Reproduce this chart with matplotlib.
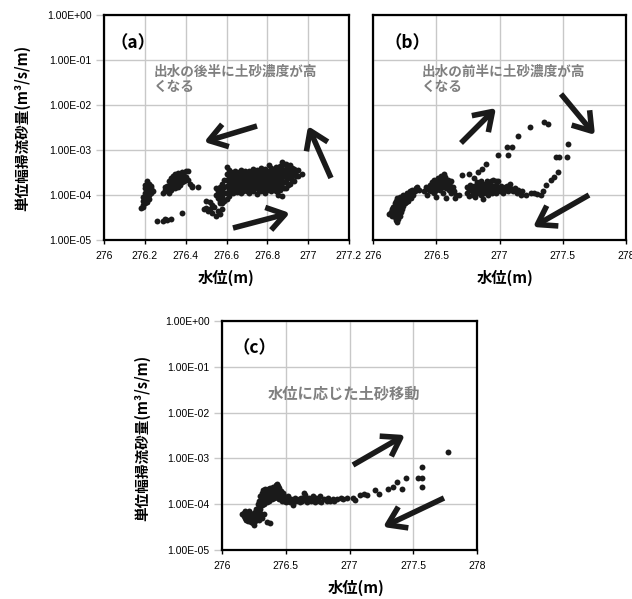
import numpy as np
import matplotlib
matplotlib.use('Agg')
import matplotlib.pyplot as plt
from matplotlib.patches import FancyArrowPatch
from matplotlib.ticker import FuncFormatter, NullLocator

plt.rcParams['font.family'] = ['Liberation Sans', 'Noto Sans CJK JP', 'DejaVu Sans']
CJK = ['Noto Sans CJK JP', 'DejaVu Sans']

# ---- data: (water level m, sediment flux m3/s/m)
a_pts = np.array([
    # cluster near 276.2
    (276.18, 5.2e-5), (276.19, 6e-5), (276.19, 7.5e-5), (276.19, 9e-5), (276.20, 1.1e-4), (276.20, 1.4e-4),
    (276.20, 1.7e-4), (276.21, 2.0e-4), (276.21, 1.5e-4), (276.21, 1.2e-4), (276.21, 9e-5), (276.21, 7e-5),
    (276.22, 1.8e-4), (276.22, 1.3e-4), (276.22, 1e-4), (276.22, 8e-5), (276.23, 1.6e-4), (276.23, 1.1e-4),
    (276.23, 1.4e-4), (276.24, 1.2e-4), (276.20, 6.5e-5), (276.19, 5.5e-5), (276.20, 8e-5), (276.22, 1.6e-4),
    # cluster near 276.35
    (276.29, 1.1e-4), (276.30, 1.3e-4), (276.31, 1.6e-4), (276.31, 1.2e-4), (276.32, 2.0e-4), (276.32, 1.5e-4),
    (276.33, 2.4e-4), (276.33, 1.8e-4), (276.33, 1.3e-4), (276.34, 2.7e-4), (276.34, 2.1e-4), (276.34, 1.6e-4),
    (276.35, 2.9e-4), (276.35, 2.3e-4), (276.35, 1.8e-4), (276.35, 1.4e-4), (276.36, 3.1e-4), (276.36, 2.5e-4),
    (276.36, 2.0e-4), (276.36, 1.5e-4), (276.37, 2.8e-4), (276.37, 2.2e-4), (276.37, 1.7e-4), (276.38, 3.2e-4),
    (276.38, 2.4e-4), (276.38, 1.9e-4), (276.39, 2.7e-4), (276.39, 2.1e-4), (276.40, 3.5e-4), (276.40, 2.5e-4),
    (276.41, 3.4e-4), (276.41, 2.2e-4), (276.42, 1.8e-4), (276.43, 1.6e-4), (276.32, 1.1e-4), (276.30, 1.5e-4),
    # isolated
    (276.26, 2.7e-5), (276.29, 2.7e-5), (276.30, 2.9e-5), (276.31, 2.8e-5), (276.33, 3.0e-5), (276.38, 4.0e-5),
    (276.46, 1.5e-4), (276.43, 1.5e-4),
    # low cluster
    (276.49, 4.8e-5), (276.50, 5.2e-5), (276.51, 4.3e-5), (276.52, 7e-5), (276.52, 4.8e-5), (276.53, 6e-5),
    (276.53, 4e-5), (276.54, 5.5e-5), (276.55, 3.5e-5), (276.56, 4.5e-5), (276.57, 6.5e-5), (276.58, 5e-5),
    (276.57, 3.8e-5), (276.50, 7.5e-5),
    # main cluster
    (276.55, 1.4e-4), (276.55, 1.0e-4), (276.56, 1.2e-4), (276.56, 8.5e-5),
    (276.57, 1.5e-4), (276.57, 1.1e-4), (276.57, 7.5e-5),
    (276.58, 1.8e-4), (276.58, 1.3e-4), (276.58, 9e-5), (276.58, 6.5e-5),
    (276.59, 2.2e-4), (276.59, 1.5e-4), (276.59, 1.1e-4), (276.59, 7.5e-5),
    (276.60, 4.2e-4), (276.60, 3.0e-4), (276.60, 2.2e-4), (276.60, 1.6e-4), (276.60, 1.1e-4), (276.60, 8e-5),
    (276.61, 3.6e-4), (276.61, 2.6e-4), (276.61, 1.9e-4), (276.61, 1.3e-4), (276.61, 9.5e-5),
    (276.62, 3.2e-4), (276.62, 2.4e-4), (276.62, 1.7e-4), (276.62, 1.2e-4),
    (276.63, 2.9e-4), (276.63, 2.1e-4), (276.63, 1.5e-4), (276.63, 1.1e-4),
    (276.64, 3.4e-4), (276.64, 2.5e-4), (276.64, 1.8e-4), (276.64, 1.3e-4),
    (276.65, 3.0e-4), (276.65, 2.2e-4), (276.65, 1.6e-4), (276.65, 1.15e-4),
    (276.66, 3.3e-4), (276.66, 2.4e-4), (276.66, 1.8e-4), (276.66, 1.35e-4),
    (276.67, 3.6e-4), (276.67, 2.7e-4), (276.67, 2.0e-4), (276.67, 1.5e-4), (276.67, 1.1e-4),
    (276.68, 3.1e-4), (276.68, 2.3e-4), (276.68, 1.7e-4), (276.68, 1.25e-4),
    (276.69, 3.4e-4), (276.69, 2.6e-4), (276.69, 1.9e-4), (276.69, 1.4e-4),
    (276.70, 3.0e-4), (276.70, 2.2e-4), (276.70, 1.6e-4), (276.70, 1.2e-4),
    (276.71, 3.5e-4), (276.71, 2.7e-4), (276.71, 2.0e-4), (276.71, 1.5e-4), (276.71, 1.1e-4),
    (276.72, 3.2e-4), (276.72, 2.4e-4), (276.72, 1.8e-4), (276.72, 1.3e-4),
    (276.73, 3.8e-4), (276.73, 2.9e-4), (276.73, 2.2e-4), (276.73, 1.6e-4), (276.73, 1.2e-4),
    (276.74, 3.3e-4), (276.74, 2.5e-4), (276.74, 1.9e-4), (276.74, 1.4e-4),
    (276.75, 3.6e-4), (276.75, 2.7e-4), (276.75, 2.0e-4), (276.75, 1.5e-4), (276.75, 1.05e-4),
    (276.76, 3.1e-4), (276.76, 2.3e-4), (276.76, 1.7e-4), (276.76, 1.25e-4),
    (276.77, 4.0e-4), (276.77, 3.0e-4), (276.77, 2.2e-4), (276.77, 1.6e-4), (276.77, 1.2e-4),
    (276.78, 3.4e-4), (276.78, 2.6e-4), (276.78, 1.9e-4), (276.78, 1.4e-4),
    (276.79, 3.7e-4), (276.79, 2.8e-4), (276.79, 2.1e-4), (276.79, 1.5e-4), (276.79, 1.1e-4),
    (276.80, 3.2e-4), (276.80, 2.4e-4), (276.80, 1.8e-4), (276.80, 1.3e-4),
    (276.81, 4.6e-4), (276.81, 3.4e-4), (276.81, 2.5e-4), (276.81, 1.9e-4), (276.81, 1.4e-4),
    (276.82, 3.9e-4), (276.82, 2.9e-4), (276.82, 2.2e-4), (276.82, 1.6e-4), (276.82, 1.2e-4),
    (276.83, 3.5e-4), (276.83, 2.6e-4), (276.83, 1.9e-4), (276.83, 1.4e-4),
    (276.84, 4.1e-4), (276.84, 3.0e-4), (276.84, 2.3e-4), (276.84, 1.7e-4), (276.84, 1.25e-4),
    (276.85, 3.6e-4), (276.85, 2.7e-4), (276.85, 2.0e-4), (276.85, 1.5e-4), (276.85, 1.0e-4),
    (276.86, 4.3e-4), (276.86, 3.2e-4), (276.86, 2.4e-4), (276.86, 1.8e-4), (276.86, 1.3e-4),
    (276.87, 5.5e-4), (276.87, 3.8e-4), (276.87, 2.8e-4), (276.87, 2.0e-4), (276.87, 1.5e-4), (276.87, 9.5e-5),
    (276.88, 4.8e-4), (276.88, 3.5e-4), (276.88, 2.6e-4), (276.88, 1.9e-4), (276.88, 1.4e-4),
    (276.89, 5.0e-4), (276.89, 3.7e-4), (276.89, 2.7e-4), (276.89, 2.0e-4), (276.89, 1.4e-4),
    (276.90, 4.4e-4), (276.90, 3.2e-4), (276.90, 2.4e-4), (276.90, 1.7e-4),
    (276.91, 4.6e-4), (276.91, 3.4e-4), (276.91, 2.5e-4), (276.91, 1.8e-4),
    (276.92, 4.0e-4), (276.92, 3.0e-4), (276.92, 2.2e-4),
    (276.93, 3.8e-4), (276.93, 2.8e-4), (276.93, 2.1e-4),
    (276.94, 3.5e-4), (276.94, 2.6e-4),
    (276.95, 3.6e-4), (276.95, 2.7e-4),
    (276.97, 3.0e-4),
])

b_pts = np.array([
    # rising band near 276.2
    (276.13, 3.8e-5), (276.14, 4.2e-5), (276.15, 3.5e-5), (276.15, 4.8e-5), (276.16, 4.0e-5), (276.16, 5.5e-5),
    (276.17, 3.2e-5), (276.17, 4.5e-5), (276.17, 6.5e-5), (276.18, 2.8e-5), (276.18, 3.8e-5), (276.18, 5.0e-5),
    (276.18, 7.5e-5), (276.19, 2.5e-5), (276.19, 3.5e-5), (276.19, 4.5e-5), (276.19, 6.0e-5), (276.19, 8.5e-5),
    (276.20, 3.0e-5), (276.20, 4.0e-5), (276.20, 5.5e-5), (276.20, 7.0e-5), (276.21, 3.5e-5), (276.21, 4.8e-5),
    (276.21, 6.5e-5), (276.21, 9.0e-5), (276.22, 4.2e-5), (276.22, 5.5e-5), (276.22, 7.5e-5), (276.23, 5.0e-5),
    (276.23, 6.5e-5), (276.23, 8.0e-5), (276.24, 5.8e-5), (276.24, 7.5e-5), (276.24, 1.0e-4), (276.25, 6.5e-5),
    (276.25, 8.5e-5), (276.26, 7.0e-5), (276.26, 9.5e-5), (276.27, 8.0e-5), (276.27, 1.1e-4), (276.28, 7.5e-5),
    (276.28, 9.0e-5), (276.29, 1.0e-4), (276.29, 1.2e-4), (276.30, 8.5e-5), (276.30, 1.1e-4), (276.31, 1.3e-4),
    (276.32, 1.0e-4), (276.33, 1.2e-4), (276.34, 1.4e-4), (276.35, 1.5e-4), (276.36, 1.3e-4),
    # cluster near 276.55
    (276.40, 1.2e-4), (276.42, 1.5e-4), (276.43, 1.0e-4), (276.44, 1.3e-4), (276.45, 1.7e-4), (276.46, 1.2e-4),
    (276.47, 1.9e-4), (276.47, 1.4e-4), (276.48, 1.1e-4), (276.48, 2.2e-4), (276.49, 1.6e-4), (276.50, 2.0e-4),
    (276.50, 1.3e-4), (276.50, 9.0e-5), (276.51, 2.4e-4), (276.51, 1.7e-4), (276.52, 1.5e-4), (276.52, 1.9e-4),
    (276.53, 2.2e-4), (276.53, 1.3e-4), (276.54, 2.6e-4), (276.54, 1.8e-4), (276.55, 2.0e-4), (276.55, 1.5e-4),
    (276.55, 1.1e-4), (276.56, 3.0e-4), (276.56, 2.3e-4), (276.57, 1.7e-4), (276.57, 2.5e-4), (276.58, 2.0e-4),
    (276.58, 1.4e-4), (276.59, 2.2e-4), (276.60, 1.8e-4), (276.60, 1.3e-4), (276.61, 1.6e-4), (276.62, 2.0e-4),
    (276.62, 1.1e-4), (276.63, 1.5e-4), (276.64, 1.2e-4), (276.66, 1.0e-4), (276.68, 1.0e-4), (276.65, 8.5e-5),
    (276.58, 8.5e-5),
    # rising path
    (276.70, 2.8e-4), (276.76, 2.9e-4), (276.80, 2.4e-4), (276.83, 3.3e-4), (276.86, 3.8e-4), (276.89, 4.8e-4),
    (276.99, 7.7e-4), (277.07, 7.7e-4), (277.06, 1.15e-3), (277.10, 1.15e-3), (277.15, 2.1e-3), (277.24, 3.2e-3),
    (277.35, 4.2e-3), (277.38, 3.7e-3),
    # flat cluster near 277
    (276.74, 1.5e-4), (276.74, 1.1e-4), (276.76, 1.3e-4), (276.76, 9.5e-5), (276.77, 1.7e-4), (276.78, 1.2e-4),
    (276.79, 1.4e-4), (276.79, 1.0e-4), (276.80, 1.6e-4), (276.81, 1.2e-4), (276.81, 9.0e-5), (276.82, 1.9e-4),
    (276.82, 1.4e-4), (276.83, 1.1e-4), (276.84, 1.6e-4), (276.84, 1.3e-4), (276.85, 2.1e-4), (276.85, 1.0e-4),
    (276.86, 1.5e-4), (276.86, 1.2e-4), (276.87, 1.8e-4), (276.87, 8.0e-5), (276.88, 1.4e-4), (276.88, 1.1e-4),
    (276.89, 1.6e-4), (276.90, 1.3e-4), (276.90, 2.0e-4), (276.91, 1.0e-4), (276.91, 1.5e-4), (276.92, 1.2e-4),
    (276.92, 1.8e-4), (276.93, 1.4e-4), (276.94, 1.1e-4), (276.94, 1.6e-4), (276.95, 2.2e-4), (276.95, 1.3e-4),
    (276.96, 1.5e-4), (276.97, 1.1e-4), (276.97, 1.7e-4), (276.98, 1.3e-4), (276.99, 1.5e-4), (277.00, 1.2e-4),
    (277.01, 1.6e-4), (277.02, 1.4e-4), (277.03, 1.1e-4), (277.04, 1.5e-4), (277.05, 1.3e-4), (277.06, 1.6e-4),
    (277.07, 1.2e-4), (277.08, 1.4e-4), (277.10, 1.3e-4), (277.11, 1.2e-4), (277.12, 1.4e-4), (277.14, 1.1e-4),
    (277.15, 1.3e-4), (277.17, 1.0e-4), (277.18, 1.2e-4), (277.21, 1.0e-4), (277.25, 1.1e-4), (277.27, 1.1e-4),
    (277.30, 1.05e-4), (277.33, 1.0e-4), (276.97, 2.1e-4), (276.93, 2.0e-4), (276.99, 2.0e-4), (277.08, 1.8e-4),
    # falling arc
    (277.34, 1.2e-4), (277.37, 1.7e-4), (277.41, 2.2e-4), (277.43, 2.5e-4), (277.46, 3.2e-4), (277.45, 7.0e-4),
    (277.47, 7.0e-4), (277.53, 7.0e-4), (277.54, 1.35e-3),
])

c_pts = np.array([
    (276.16, 6e-5), (276.17, 5.5e-5), (276.17, 6.5e-5), (276.18, 5e-5), (276.18, 6e-5), (276.18, 7e-5),
    (276.19, 4.5e-5), (276.19, 5.5e-5), (276.19, 6.5e-5), (276.20, 4.2e-5), (276.20, 5.2e-5), (276.20, 6.2e-5),
    (276.21, 4.8e-5), (276.21, 5.8e-5), (276.21, 7.0e-5), (276.22, 4.5e-5), (276.22, 5.5e-5), (276.22, 6.5e-5),
    (276.23, 4.0e-5), (276.23, 5.0e-5), (276.23, 6.0e-5), (276.24, 3.8e-5), (276.24, 4.8e-5), (276.24, 5.8e-5),
    (276.25, 3.5e-5), (276.25, 4.5e-5), (276.25, 5.5e-5), (276.26, 4.2e-5), (276.26, 5.2e-5), (276.26, 6.8e-5),
    (276.27, 4.8e-5), (276.27, 6.2e-5), (276.27, 8.0e-5), (276.28, 5.5e-5), (276.28, 7.5e-5), (276.28, 1.0e-4),
    (276.29, 6.5e-5), (276.29, 9.0e-5), (276.29, 1.2e-4), (276.30, 8.0e-5), (276.30, 1.1e-4), (276.30, 1.5e-4),
    (276.31, 9.5e-5), (276.31, 1.3e-4), (276.31, 1.8e-4), (276.32, 1.1e-4), (276.32, 1.5e-4), (276.32, 2.0e-4),
    (276.33, 1.0e-4), (276.33, 1.4e-4), (276.33, 1.9e-4), (276.34, 1.2e-4), (276.34, 1.6e-4), (276.34, 2.1e-4),
    (276.35, 1.1e-4), (276.35, 1.5e-4), (276.35, 2.0e-4), (276.36, 1.3e-4), (276.36, 1.7e-4), (276.36, 2.2e-4),
    (276.37, 1.2e-4), (276.37, 1.6e-4), (276.37, 2.1e-4), (276.38, 1.4e-4), (276.38, 1.8e-4), (276.38, 2.3e-4),
    (276.39, 1.3e-4), (276.39, 1.7e-4), (276.39, 2.2e-4), (276.40, 1.5e-4), (276.40, 1.9e-4), (276.40, 2.4e-4),
    (276.41, 1.4e-4), (276.41, 1.8e-4), (276.41, 2.3e-4), (276.42, 1.6e-4), (276.42, 2.0e-4), (276.42, 2.6e-4),
    (276.43, 1.5e-4), (276.43, 1.9e-4), (276.43, 2.7e-4), (276.44, 1.4e-4), (276.44, 1.8e-4), (276.44, 2.5e-4),
    (276.45, 1.3e-4), (276.45, 1.7e-4), (276.45, 2.3e-4), (276.46, 1.4e-4), (276.46, 1.9e-4), (276.47, 1.2e-4),
    (276.47, 1.6e-4), (276.48, 1.3e-4), (276.48, 1.8e-4), (276.49, 1.2e-4), (276.49, 1.5e-4), (276.50, 1.1e-4),
    (276.50, 1.4e-4), (276.51, 1.3e-4), (276.52, 1.2e-4), (276.52, 1.5e-4), (276.53, 1.1e-4),
    (276.29, 4.5e-5), (276.31, 5e-5), (276.33, 6e-5), (276.35, 4.0e-5), (276.38, 3.8e-5), (276.30, 6.5e-5),
    # tail
    (276.54, 1.3e-4), (276.55, 1.1e-4), (276.56, 9.5e-5), (276.57, 1.4e-4), (276.58, 1.2e-4), (276.60, 1.3e-4),
    (276.61, 1.1e-4), (276.62, 1.4e-4), (276.63, 1.2e-4), (276.64, 1.8e-4), (276.65, 1.6e-4), (276.66, 1.3e-4),
    (276.67, 1.1e-4), (276.68, 1.4e-4), (276.70, 1.2e-4), (276.71, 1.5e-4), (276.72, 1.3e-4), (276.73, 1.1e-4),
    (276.74, 1.4e-4), (276.76, 1.2e-4), (276.77, 1.5e-4), (276.78, 1.1e-4), (276.80, 1.3e-4), (276.82, 1.2e-4),
    (276.83, 1.4e-4), (276.85, 1.15e-4), (276.87, 1.3e-4), (276.88, 1.2e-4), (276.90, 1.3e-4), (276.93, 1.35e-4),
    (276.95, 1.3e-4), (276.98, 1.4e-4), (277.03, 1.4e-4), (277.04, 1.25e-4), (277.08, 1.6e-4), (277.11, 1.7e-4),
    (277.14, 1.6e-4), (277.20, 2.0e-4), (277.23, 1.7e-4), (277.30, 2.2e-4), (277.34, 2.4e-4), (277.37, 3.0e-4),
    (277.41, 2.2e-4), (277.44, 3.7e-4), (277.54, 3.7e-4), (277.57, 3.7e-4), (277.57, 6.4e-4), (277.57, 2.4e-4),
    (277.77, 1.4e-3),
])

a_xticks = [276, 276.2, 276.4, 276.6, 276.8, 277, 277.2]
bc_xticks = [276, 276.5, 277, 277.5, 278]
yticks = [1e-5, 1e-4, 1e-3, 1e-2, 1e-1, 1e0]

ylab = '単位幅掃流砂量(m³/s/m)'
xlab = '水位(m)'
note_a = '出水の後半に土砂濃度が高\nくなる'
note_b = '出水の前半に土砂濃度が高\nくなる'
note_c = '水位に応じた土砂移動'

W, H = 632, 599
fig = plt.figure(figsize=(W / 100, H / 100), dpi=100)


def fp(x, y):
    # pixel (top-left origin) -> figure fraction
    return (x / W, 1 - y / H)


def setup(ax, xlim, xticks, ylabels=True):
    ax.set_yscale('log')
    ax.set_xlim(xlim)
    ax.set_ylim(1e-5, 1)
    ax.set_xticks(xticks)
    ax.set_xticklabels([('%g' % t) for t in xticks])
    ax.set_yticks(yticks)
    ax.yaxis.set_minor_locator(NullLocator())
    if ylabels:
        ax.yaxis.set_major_formatter(FuncFormatter(lambda v, p: '%.2E' % v))
    else:
        ax.set_yticklabels([])
    ax.tick_params(axis='x', labelsize=7.5, length=3, width=1, color='black', pad=5)
    ax.tick_params(axis='y', labelsize=7.5, length=6, width=1, color='#c8c8c8', pad=3)
    ax.grid(True, color='#c8c8c8', lw=1)
    ax.set_axisbelow(True)
    for s in ax.spines.values():
        s.set_linewidth(1.6)
        s.set_color('black')


def arrow(x0, y0, x1, y1):
    fig.add_artist(FancyArrowPatch(
        fp(x0, y0), fp(x1, y1), transform=fig.transFigure,
        arrowstyle='->,head_length=6,head_width=4', lw=4, color='#1a1a1a',
        mutation_scale=2.1, shrinkA=0, shrinkB=0, capstyle='butt'))


def labels(ax, xc, xt, yr, yc):
    ax.set_xlabel(xlab, family=CJK, fontsize=11, fontweight='bold')
    ax.xaxis.set_label_coords(xc, xt)
    if yr is not None:
        ax.set_ylabel(ylab, family=CJK, fontsize=10.5, fontweight='bold')
        ax.yaxis.set_label_coords(yr, yc)


# (a)
ax1 = fig.add_axes([104 / W, 1 - 240 / H, 245 / W, 225 / H])
setup(ax1, (276, 277.2), a_xticks)
ax1.scatter(a_pts[:, 0], a_pts[:, 1], s=18, color='#1a1a1a', lw=0, zorder=3)
labels(ax1, 0.5, -0.13, -0.30, 0.5)

# (b)
ax2 = fig.add_axes([373 / W, 1 - 240 / H, 253 / W, 225 / H])
setup(ax2, (276, 278), bc_xticks, ylabels=False)
ax2.tick_params(axis='y', length=0)
ax2.scatter(b_pts[:, 0], b_pts[:, 1], s=18, color='#1a1a1a', lw=0, zorder=3)
labels(ax2, 0.52, -0.13, None, None)

# (c)
ax3 = fig.add_axes([222 / W, 1 - 550 / H, 255 / W, 229 / H])
setup(ax3, (276, 278), bc_xticks)
ax3.scatter(c_pts[:, 0], c_pts[:, 1], s=18, color='#1a1a1a', lw=0, zorder=3)
labels(ax3, 0.525, -0.13, -0.28, 0.49)

# panel tags and notes
for lbl, (px, py) in [('（a）', (110, 43)), ('（b）', (385, 43)), ('（c）', (233, 348))]:
    fig.text(*fp(px, py), lbl, family=CJK, fontsize=12.5, fontweight='bold', va='center', ha='left')
fig.text(*fp(154, 65), note_a, family=CJK, fontsize=9.8, fontweight='bold', color='#808080',
         va='top', ha='left', linespacing=1.1)
fig.text(*fp(422, 65), note_b, family=CJK, fontsize=9.8, fontweight='bold', color='#808080',
         va='top', ha='left', linespacing=1.1)
fig.text(*fp(268, 393), note_c, family=CJK, fontsize=11, fontweight='bold', color='#808080',
         va='center', ha='left')

# arrows (a)
arrow(257, 126, 204, 142)
arrow(233, 228, 290, 213)
arrow(331, 178, 308, 126)
# arrows (b)
arrow(461, 143, 496, 108)
arrow(561, 94, 595, 135)
arrow(589, 195, 533, 227)
# arrows (c)
arrow(353, 465, 405, 435)
arrow(444, 498, 383, 527)

fig.savefig('out.png', dpi=100)
